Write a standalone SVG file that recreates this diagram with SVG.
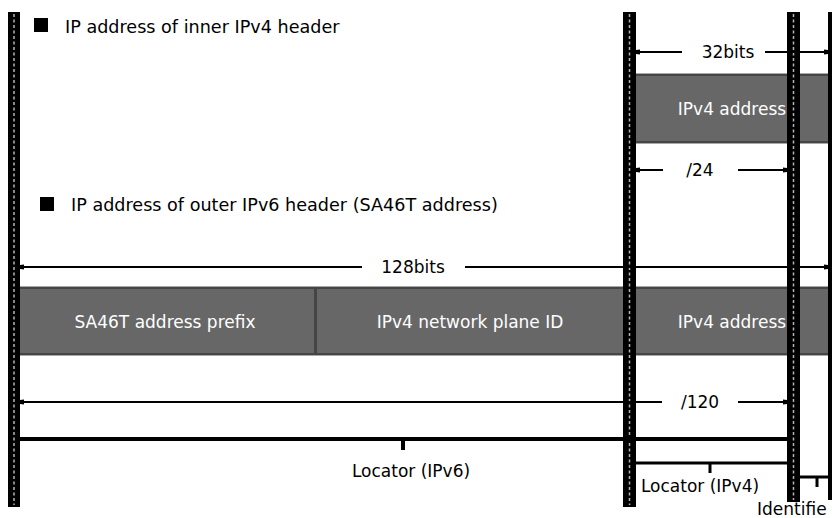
<svg xmlns="http://www.w3.org/2000/svg" width="832" height="518" viewBox="0 0 832 518">
<style>
text{font-family:"DejaVu Sans","Liberation Sans",sans-serif;font-size:17px;fill:#000}
.t{font-size:17.6px}
.w{fill:#fff}
.band{fill:#676767}
.edgeD{stroke:#454545;stroke-width:2}
.edgeL{stroke:#a8a8a8;stroke-width:1}
.bar{fill:#000}
.dots{stroke:#b5b5b5;stroke-width:1.5;stroke-dasharray:3 2.5}
.dim{stroke:#000;stroke-width:2;fill:none}
.brk{stroke:#000;stroke-width:4;fill:none}
.brk3{stroke:#000;stroke-width:3;fill:none}
</style>
<defs>
<marker id="ah" viewBox="0 0 4 6" refX="4" refY="3" markerWidth="4" markerHeight="6" orient="auto-start-reverse" markerUnits="userSpaceOnUse">
<path d="M0,0.5 L4,1 L4,5 L0,5.5 Z" fill="#000"/>
</marker>
</defs>

<g id="title-ipv4">
<rect x="34" y="18" width="14" height="14" fill="#000"/>
<text class="t" x="65" y="33">IP address of  inner IPv4 header</text>
</g>
<g id="title-ipv6">
<rect x="40" y="197" width="14" height="14" fill="#000"/>
<text class="t" x="71" y="211">IP address of outer IPv6 header (SA46T address)</text>
</g>

<g id="band-ipv4">
<rect class="band" x="636" y="73" width="196" height="71"/>
<line class="edgeL" x1="636" y1="73.5" x2="832" y2="73.5"/>
<line class="edgeD" x1="636" y1="75" x2="832" y2="75"/>
<line class="edgeD" x1="636" y1="142" x2="832" y2="142"/>
<line class="edgeL" x1="636" y1="143.5" x2="832" y2="143.5"/>
</g>

<g id="band-ipv6">
<rect class="band" x="20" y="286" width="812" height="70"/>
<line class="edgeL" x1="20" y1="286.5" x2="832" y2="286.5"/>
<line class="edgeD" x1="20" y1="288" x2="832" y2="288"/>
<line class="edgeD" x1="20" y1="354" x2="832" y2="354"/>
<line class="edgeL" x1="20" y1="355.5" x2="832" y2="355.5"/>
<line x1="315.5" y1="287" x2="315.5" y2="355" stroke="#454545" stroke-width="3"/>
</g>

<g id="bars">
<rect class="bar" x="8" y="12" width="12" height="495"/>
<line class="dots" x1="14" y1="14" x2="14" y2="505"/>
<rect class="bar" x="623" y="12" width="13" height="495"/>
<line class="dots" x1="629.5" y1="14" x2="629.5" y2="505"/>
<rect class="bar" x="787" y="12" width="13" height="490"/>
<line class="dots" x1="793.5" y1="14" x2="793.5" y2="500"/>
<rect class="bar" x="828" y="12" width="4" height="488"/>
</g>

<g id="connectors">
<line class="dim" x1="636" y1="52" x2="682" y2="52" marker-start="url(#ah)"/>
<line class="dim" x1="765" y1="52" x2="828" y2="52" marker-end="url(#ah)"/>
<line class="dim" x1="636" y1="170" x2="663" y2="170" marker-start="url(#ah)"/>
<line class="dim" x1="738" y1="170" x2="787" y2="170" marker-end="url(#ah)"/>
<line class="dim" x1="20" y1="267" x2="362" y2="267" marker-start="url(#ah)"/>
<line class="dim" x1="465" y1="267" x2="828" y2="267" marker-end="url(#ah)"/>
<line class="dim" x1="20" y1="402" x2="662" y2="402" marker-start="url(#ah)"/>
<line class="dim" x1="738" y1="402" x2="787" y2="402" marker-end="url(#ah)"/>
<path class="brk" d="M20,439 H787"/>
<path class="brk" d="M403,439 V450"/>
<path class="brk3" d="M636,463 H787 M710,463 V473"/>
<path class="brk3" d="M800,477 H828 M817,477 V487"/>
</g>

<g id="labels">
<text x="728" y="58" text-anchor="middle">32bits</text>
<text x="700" y="176" text-anchor="middle">/24</text>
<text x="413" y="273" text-anchor="middle">128bits</text>
<text x="700" y="408" text-anchor="middle">/120</text>
<text x="411" y="477" text-anchor="middle">Locator (IPv6)</text>
<text x="700" y="492" text-anchor="middle">Locator (IPv4)</text>
<text x="757" y="515">Identifie</text>
</g>
<g id="cell-texts">
<text class="w" x="732" y="115" text-anchor="middle">IPv4 address</text>
<text class="w" x="165" y="328" text-anchor="middle">SA46T address prefix</text>
<text class="w" x="470" y="328" text-anchor="middle">IPv4 network plane ID</text>
<text class="w" x="732" y="328" text-anchor="middle">IPv4 address</text>
</g>
</svg>
